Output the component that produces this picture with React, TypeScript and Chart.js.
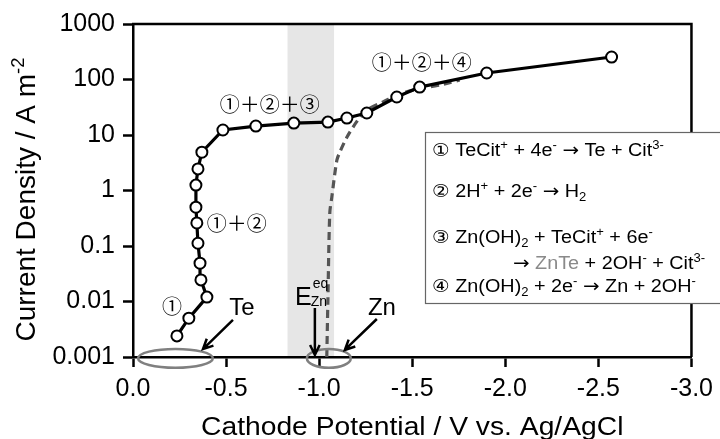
import React, { useEffect, useRef } from "react";
import { Chart, registerables } from "chart.js";

Chart.register(...registerables);

// ---- data ----
const potentialV = [-0.236, -0.3, -0.397, -0.365, -0.36, -0.349, -0.343, -0.338, -0.338, -0.349, -0.37, -0.483, -0.66, -0.864, -1.047, -1.149, -1.256, -1.417, -1.54, -1.9, -2.571];
const currentDensity = [0.0024, 0.005, 0.012, 0.0245, 0.049, 0.112, 0.26, 0.5, 1.25, 2.45, 4.9, 12.3, 14.5, 16.4, 17.1, 20.2, 24.9, 48.4, 73, 131, 254];

const znPotentialV = [-1.041, -1.047, -1.057, -1.068, -1.095, -1.111, -1.149, -1.208, -1.256, -1.353, -1.433, -1.54, -1.675, -1.755];
const znCurrentDensity = [0.001, 0.0107, 0.39, 0.76, 3.5, 4.9, 9.1, 18.6, 28, 41, 55, 68, 83, 98];

const bandV = [-0.83, -1.08];

const yTicks = [0.001, 0.01, 0.1, 1, 10, 100, 1000];
const yTickLabels = ["0.001", "0.01", "0.1", "1", "10", "100", "1000"];

const regionLabels = ["①＋②＋③", "①＋②＋④", "①＋②", "①"];
const regionLabelV = [-0.735, -1.551, -0.558, -0.209];
const regionLabelJ = [36, 207, 0.26, 0.0083];

const ellipseV = [[-0.027, -0.429], [-0.934, -1.17]];
const ellipseJ = [[0.00064, 0.0014], [0.00064, 0.0014]];

const metalLabels = ["Te", "Zn"];
const metalLabelV = [-0.585, -1.337];
const metalLabelJ = [0.0076, 0.0076];

const arrowFromV = [-0.537, -1.31, -0.977];
const arrowFromJ = [0.00465, 0.00484, 0.0076];
const arrowToV = [-0.376, -1.138, -0.977];
const arrowToJ = [0.00139, 0.00134, 0.00109];

const eqLabelV = -0.87;
const eqLabelJ = 0.00865;

const xTitle = "Cathode Potential / V vs. Ag/AgCl";
const yTitleMain = "Current Density / A m";
const yTitleSup = "-2";

type Seg = { t: string; s?: "sup" | "sub"; c?: string; f?: string };
const ARROW_FONT = "'DejaVu Sans', sans-serif";
const reactionLines: Seg[][] = [
  [{ t: "① TeCit" }, { t: "+", s: "sup" }, { t: " + 4e" }, { t: "-", s: "sup" }, { t: " " }, { t: "→", f: ARROW_FONT }, { t: " Te + Cit" }, { t: "3-", s: "sup" }],
  [{ t: "② 2H" }, { t: "+", s: "sup" }, { t: " + 2e" }, { t: "-", s: "sup" }, { t: " " }, { t: "→", f: ARROW_FONT }, { t: " H" }, { t: "2", s: "sub" }],
  [{ t: "③ Zn(OH)" }, { t: "2", s: "sub" }, { t: " + TeCit" }, { t: "+", s: "sup" }, { t: " + 6e" }, { t: "-", s: "sup" }],
  [{ t: "→", f: ARROW_FONT }, { t: " " }, { t: "ZnTe", c: "#8a8a8a" }, { t: " + 2OH" }, { t: "-", s: "sup" }, { t: " + Cit" }, { t: "3-", s: "sup" }],
  [{ t: "④ Zn(OH)" }, { t: "2", s: "sub" }, { t: " + 2e" }, { t: "-", s: "sup" }, { t: " " }, { t: "→", f: ARROW_FONT }, { t: " Zn + 2OH" }, { t: "-", s: "sup" }],
];

const FONT = "'Liberation Sans', Arial, Helvetica, 'DejaVu Sans', sans-serif";
const CJK_FONT = "'Noto Sans CJK JP', 'DejaVu Sans', sans-serif";

function drawRich(ctx: CanvasRenderingContext2D, segs: Seg[], x: number, y: number, size: number, measureOnly = false) {
  let cx = x;
  for (const seg of segs) {
    const fs = seg.s ? size * 0.66 : size;
    ctx.font = `${fs}px ${seg.f || FONT}`;
    const dy = seg.s === "sup" ? -size * 0.4 : seg.s === "sub" ? size * 0.22 : 0;
    if (!measureOnly) {
      ctx.fillStyle = seg.c || "#000";
      ctx.fillText(seg.t, cx, y + dy);
    }
    cx += ctx.measureText(seg.t).width;
  }
  return cx - x;
}

function arrow(ctx: CanvasRenderingContext2D, x1: number, y1: number, x2: number, y2: number) {
  ctx.beginPath();
  ctx.moveTo(x1, y1);
  ctx.lineTo(x2, y2);
  const a = Math.atan2(y2 - y1, x2 - x1);
  const L = 11;
  const w = 0.45;
  ctx.moveTo(x2 - L * Math.cos(a - w), y2 - L * Math.sin(a - w));
  ctx.lineTo(x2, y2);
  ctx.lineTo(x2 - L * Math.cos(a + w), y2 - L * Math.sin(a + w));
  ctx.stroke();
}

const bandPlugin = {
  id: "band",
  beforeDraw(chart: any) {
    const { ctx, chartArea, scales } = chart;
    const x1 = scales.x.getPixelForValue(bandV[0]);
    const x2 = scales.x.getPixelForValue(bandV[1]);
    ctx.save();
    ctx.fillStyle = "#e6e6e6";
    ctx.fillRect(Math.min(x1, x2), chartArea.top, Math.abs(x2 - x1), chartArea.bottom - chartArea.top);
    ctx.restore();
  },
};

const decorPlugin = {
  id: "decor",
  afterDraw(chart: any) {
    const { ctx, chartArea, scales } = chart;
    const X = (v: number) => scales.x.getPixelForValue(v);
    const Y = (v: number) => scales.y.getPixelForValue(v);
    ctx.save();

    // top and right frame
    ctx.strokeStyle = "#000";
    ctx.lineWidth = 2.5;
    ctx.beginPath();
    ctx.moveTo(chartArea.left - 1, chartArea.top);
    ctx.lineTo(chartArea.right, chartArea.top);
    ctx.lineTo(chartArea.right, chartArea.bottom);
    ctx.stroke();

    // region labels
    ctx.fillStyle = "#000";
    ctx.textAlign = "center";
    ctx.textBaseline = "middle";
    ctx.font = `20px ${CJK_FONT}`;
    regionLabels.forEach((t, i) => ctx.fillText(t, X(regionLabelV[i]), Y(regionLabelJ[i])));

    // metal labels
    ctx.font = `24px ${FONT}`;
    metalLabels.forEach((t, i) => ctx.fillText(t, X(metalLabelV[i]), Y(metalLabelJ[i])));

    // ellipses
    ctx.strokeStyle = "#808080";
    ctx.lineWidth = 2.5;
    ellipseV.forEach((ev, i) => {
      const xa = X(ev[0]), xb = X(ev[1]);
      const ya = Y(ellipseJ[i][0]), yb = Y(ellipseJ[i][1]);
      ctx.beginPath();
      ctx.ellipse((xa + xb) / 2, (ya + yb) / 2, Math.abs(xb - xa) / 2, Math.abs(yb - ya) / 2, 0, 0, Math.PI * 2);
      ctx.stroke();
    });

    // arrows
    ctx.strokeStyle = "#000";
    ctx.lineWidth = 2.5;
    arrowFromV.forEach((v, i) => arrow(ctx, X(v), Y(arrowFromJ[i]), X(arrowToV[i]), Y(arrowToJ[i])));

    // E_Zn^eq
    ctx.textAlign = "left";
    ctx.textBaseline = "alphabetic";
    const ex = X(eqLabelV), ey = Y(eqLabelJ);
    ctx.font = `25px ${FONT}`;
    ctx.fillText("E", ex, ey);
    const ew = ctx.measureText("E").width;
    ctx.font = `14px ${FONT}`;
    ctx.fillText("Zn", ex + ew - 1, ey + 1);
    ctx.fillText("eq", ex + ew + 1, ey - 17);

    // reaction box
    const bx = 425.5, by = 132.5, bh = 171;
    ctx.fillStyle = "#fff";
    ctx.fillRect(bx, by, chart.width - bx + 20, bh);
    ctx.strokeStyle = "#666";
    ctx.lineWidth = 1.2;
    ctx.strokeRect(bx, by, chart.width - bx + 20, bh);
    const lineX = [432, 432, 432, 513, 432];
    const lineY = [156, 197, 243, 269, 292];
    reactionLines.forEach((segs, i) => {
      ctx.save();
      ctx.translate(lineX[i], lineY[i]);
      ctx.scale(1.1, 1);
      drawRich(ctx, segs, 0, 0, 18);
      ctx.restore();
    });

    // axis titles
    ctx.fillStyle = "#000";
    ctx.font = `25px ${FONT}`;
    ctx.textAlign = "center";
    ctx.save();
    ctx.translate((chartArea.left + chartArea.right) / 2, 435);
    ctx.scale(1.13, 1);
    ctx.fillText(xTitle, 0, 0);
    ctx.restore();

    ctx.save();
    ctx.translate(35, (chartArea.top + chartArea.bottom) / 2 + 9);
    ctx.rotate(-Math.PI / 2);
    ctx.textAlign = "left";
    const wMain = drawRich(ctx, [{ t: yTitleMain }, { t: yTitleSup, s: "sup" }], 0, 0, 28, true);
    drawRich(ctx, [{ t: yTitleMain }, { t: yTitleSup, s: "sup" }], -wMain / 2, 0, 28);
    ctx.restore();

    ctx.restore();
  },
};

export default function App() {
  const ref = useRef<HTMLCanvasElement | null>(null);
  useEffect(() => {
    if (!ref.current) return;
    const gridOpts = {
      display: true,
      drawOnChartArea: false,
      drawTicks: true,
      tickLength: 10,
      tickColor: "#000",
      tickWidth: 2.5,
    };
    const borderOpts = { display: true, color: "#000", width: 2.5 };
    const chart = new Chart(ref.current, {
      type: "scatter",
      data: {
        datasets: [
          {
            data: potentialV.map((x, i) => ({ x, y: currentDensity[i] })),
            showLine: true,
            borderColor: "#000",
            borderWidth: 3.2,
            pointRadius: 5.5,
            pointBackgroundColor: "#fff",
            pointBorderColor: "#000",
            pointBorderWidth: 2,
            tension: 0,
          },
          {
            data: znPotentialV.map((x, i) => ({ x, y: znCurrentDensity[i] })),
            showLine: true,
            borderColor: "#555",
            borderWidth: 3.2,
            borderDash: [8, 5],
            pointRadius: 0,
            tension: 0.3,
          },
        ],
      },
      options: {
        animation: false,
        responsive: false,
        layout: { padding: { top: 24, right: 28, left: 0, bottom: 0 } },
        plugins: { legend: { display: false }, tooltip: { enabled: false } },
        scales: {
          x: {
            type: "linear",
            min: -3,
            max: 0,
            reverse: true,
            position: "bottom",
            ticks: {
              stepSize: 0.5,
              color: "#000",
              font: { family: FONT, size: 25 },
              padding: 7,
              maxRotation: 0,
              autoSkip: false,
              callback: (v: any) => Number(v).toFixed(1),
            },
            grid: gridOpts,
            border: borderOpts,
            afterFit: (s: any) => {
              s.height = 82;
            },
          },
          y: {
            type: "logarithmic",
            min: 0.001,
            max: 1000,
            position: "left",
            afterBuildTicks: (s: any) => {
              s.ticks = yTicks.map((v) => ({ value: v, major: true }));
            },
            ticks: {
              color: "#000",
              font: { family: FONT, size: 25 },
              padding: 8,
              autoSkip: false,
              callback: (v: any) => {
                const i = yTicks.findIndex((t) => Math.abs(Math.log10(t) - Math.log10(Number(v))) < 1e-6);
                return i >= 0 ? yTickLabels[i] : "";
              },
            },
            grid: gridOpts,
            border: borderOpts,
            afterFit: (s: any) => {
              s.width = 133;
            },
          },
        },
      } as any,
      plugins: [bandPlugin, decorPlugin],
    });
    return () => chart.destroy();
  }, []);

  return (
    <div style={{ position: "fixed", left: 0, top: 0, width: 720, height: 439, background: "#fff" }}>
      <canvas ref={ref} width={720} height={439} style={{ width: 720, height: 439, display: "block" }} />
    </div>
  );
}
